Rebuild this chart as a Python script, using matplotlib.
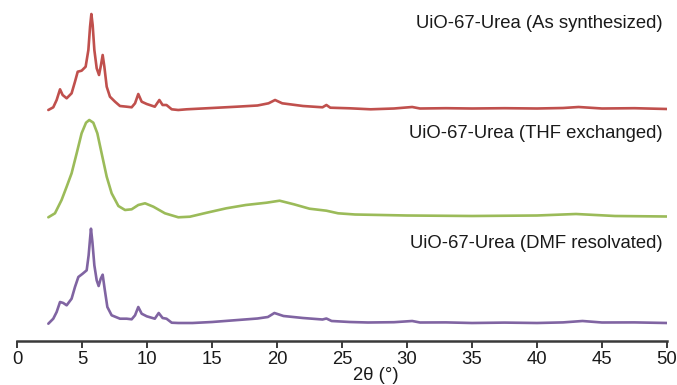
import matplotlib.pyplot as plt

# 2theta positions and intensities (a.u.), one set per pattern
x_as = [2.41, 2.79, 3.05, 3.31, 3.51, 3.82, 4.2, 4.46, 4.67, 4.97, 5.28, 5.49, 5.62, 5.72,
        5.82, 5.95, 6.13, 6.31, 6.46, 6.59, 6.72, 6.9, 7.15, 7.54, 7.92, 8.44, 8.82, 9.08,
        9.33, 9.59, 9.98, 10.6, 10.95, 11.2, 11.5, 11.9, 12.4, 13.05, 15.0, 16.9, 18.5,
        19.35, 19.85, 20.4, 22.0, 23.5, 23.8, 24.1, 25.6, 27.2, 29.0, 30.4, 31.0, 33.0,
        35.0, 37.5, 40.0, 42.0, 43.2, 45.0, 47.5, 50.0]
y_as = [1, 3.7, 11, 21.7, 16, 12.7, 17.7, 29.3, 39.3, 40.3, 44.3, 61, 84.3, 97,
        86, 61, 42.7, 36, 46, 56, 44.3, 24.3, 14.3, 9.3, 5, 4.3, 3.7, 7.7,
        17, 9.3, 7, 4.3, 11, 6, 6, 1.7, 1, 1.7, 3, 4.3, 5.5,
        7.7, 11, 7.7, 5, 3.7, 6, 3.3, 2.7, 1.7, 2.5, 4, 2.5, 2.8,
        2.5, 2.8, 2.5, 3, 4, 2.5, 2.8, 2]

x_thf = [2.41, 2.92, 3.43, 3.82, 4.2, 4.59, 4.97, 5.31, 5.56, 5.87, 6.18, 6.51, 6.9, 7.28,
         7.8, 8.31, 8.82, 9.33, 9.85, 10.49, 11.38, 12.41, 13.3, 14.6, 16.1, 17.6, 19.2,
         20.2, 21.3, 22.5, 23.8, 24.7, 26.0, 30.0, 35.0, 40.0, 43.0, 46.0, 50.0]
y_thf = [0.7, 4.7, 18, 31.3, 44.7, 64.7, 84.7, 95.3, 98, 95.3, 84.7, 64.7, 41.3, 24.7,
         12, 8, 8.7, 13, 14.7, 11.3, 4.7, 0.7, 1.3, 5.3, 9.7, 13, 15.3,
         17.3, 13.7, 9.3, 7.3, 4.7, 3.5, 2.5, 2, 2.5, 4, 2, 1.5]

x_dmf = [2.41, 2.79, 3.05, 3.31, 3.56, 3.82, 4.2, 4.46, 4.72, 5.05, 5.36, 5.51, 5.62, 5.69,
         5.8, 5.95, 6.13, 6.28, 6.44, 6.59, 6.74, 6.95, 7.28, 7.92, 8.44, 8.82, 9.08, 9.33,
         9.59, 9.98, 10.6, 10.9, 11.2, 11.5, 11.9, 12.4, 13.5, 15.0, 17.0, 18.5, 19.3,
         19.8, 20.5, 22.0, 23.5, 23.8, 24.2, 25.6, 27.0, 29.0, 30.4, 31.0, 33.0, 35.0,
         37.5, 40.0, 42.0, 43.5, 45.0, 47.5, 50.0]
y_dmf = [1.3, 6.3, 13, 23, 22, 19.7, 26.3, 38, 48, 51.3, 54.7, 69.7, 86.3, 96.3,
         83, 59.7, 44.7, 39, 46.3, 50.3, 36.3, 18, 9.7, 6.3, 6.3, 5.7, 9.7, 18,
         11.3, 8.7, 6.3, 12, 7, 6.3, 2.3, 2, 2, 3, 5, 6.5, 8,
         12, 9, 7, 5.5, 6.5, 4, 3, 2.5, 2.8, 4, 2.5, 2.6, 2,
         2.4, 2, 2.6, 4, 2.5, 2.6, 2]

labels = ["UiO-67-Urea (As synthesized)", "UiO-67-Urea (THF exchanged)",
          "UiO-67-Urea (DMF resolvated)"]
offsets = [230, 123, 16]
colors = ["#c0504d", "#9bbb59", "#8064a2"]

plt.rcParams["font.family"] = ["Liberation Sans", "DejaVu Sans"]

fig = plt.figure(figsize=(6.77, 3.85), dpi=100)
ax = fig.add_axes([17 / 677, 44 / 385, 650 / 677, 341 / 385])

for xs, ys, off, c in zip([x_as, x_thf, x_dmf], [y_as, y_thf, y_dmf], offsets, colors):
    ax.plot(xs, [v + off for v in ys], color=c, lw=1.9,
            solid_joinstyle="round", solid_capstyle="round")

# sample names, right aligned above each pattern
for lab, ytxt in zip(labels, [317, 208, 97]):
    ax.text(49.7, ytxt, lab, ha="right", va="center", fontsize=13.3, color="#1a1a1a")

ax.set_xlim(0, 50)
ax.set_ylim(0, 341)
ax.set_xticks(range(0, 51, 5))
ax.set_yticks([])
for s in ["left", "right", "top"]:
    ax.spines[s].set_visible(False)
ax.spines["bottom"].set_color("#3a3a3a")
ax.spines["bottom"].set_linewidth(1.8)
ax.tick_params(axis="x", direction="out", length=5, width=1.4, color="#3a3a3a",
               labelsize=13.3, labelcolor="#1a1a1a", pad=2.5)

fig.text(376 / 677, 1 - 376 / 385, "2θ (°)", ha="center", va="center",
         fontsize=13.3, color="#1a1a1a")

fig.savefig("out.png", dpi=100)
